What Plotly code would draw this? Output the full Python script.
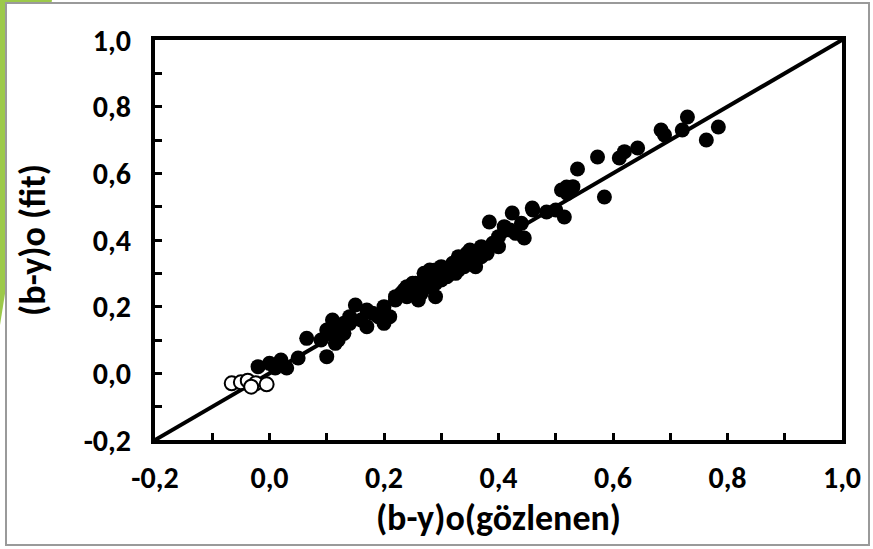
import plotly.graph_objects as go

# Observed (x) vs fitted (y) values – filled points
obs_filled = [
    -0.02, 0.00, 0.02, 0.03, 0.01, 0.05, 0.065, 0.09, 0.10, 0.10, 0.11, 0.11,
    0.12, 0.13, 0.14, 0.15, 0.16, 0.17, 0.18, 0.19, 0.20, 0.21, 0.20, 0.22, 0.12, 0.115, 0.13,
    0.23, 0.24, 0.25, 0.26, 0.27, 0.27, 0.28, 0.28, 0.29, 0.29, 0.30, 0.30, 0.31, 0.26,
    0.31, 0.32, 0.33, 0.33, 0.34, 0.35, 0.35, 0.36, 0.37, 0.37, 0.38, 0.384, 0.39, 0.40, 0.36,
    0.25, 0.24, 0.27, 0.29, 0.32, 0.34, 0.38, 0.28, 0.30, 0.22, 0.17, 0.14,
    0.424, 0.459, 0.445, 0.484, 0.42, 0.41, 0.44, 0.46, 0.40, 0.43,
    0.50, 0.51, 0.515, 0.52, 0.53, 0.538, 0.519, 0.585, 0.573, 0.611,
    0.62, 0.643, 0.684, 0.69, 0.721, 0.73, 0.763, 0.784,
    0.235, 0.255, 0.265, 0.285, 0.305, 0.325, 0.345, 0.355, 0.375,
]
fit_filled = [
    0.02, 0.03, 0.04, 0.016, 0.016, 0.046, 0.105, 0.10, 0.05, 0.13, 0.12, 0.16,
    0.14, 0.15, 0.17, 0.205, 0.16, 0.14, 0.18, 0.17, 0.15, 0.17, 0.20, 0.23, 0.10, 0.09, 0.12,
    0.24, 0.26, 0.27, 0.25, 0.28, 0.30, 0.26, 0.29, 0.23, 0.31, 0.28, 0.32, 0.29, 0.22,
    0.30, 0.33, 0.31, 0.35, 0.33, 0.34, 0.37, 0.35, 0.38, 0.35, 0.36, 0.454, 0.39, 0.38, 0.32,
    0.25, 0.23, 0.26, 0.27, 0.31, 0.32, 0.37, 0.31, 0.30, 0.22, 0.19, 0.15,
    0.481, 0.496, 0.406, 0.484, 0.43, 0.44, 0.45, 0.49, 0.41, 0.42,
    0.49, 0.55, 0.469, 0.54, 0.56, 0.613, 0.559, 0.529, 0.649, 0.646,
    0.665, 0.676, 0.73, 0.715, 0.73, 0.769, 0.70, 0.739,
    0.25, 0.27, 0.24, 0.28, 0.31, 0.30, 0.36, 0.33, 0.37,
]

# Open circles near the origin
obs_open = [-0.066, -0.050, -0.038, -0.024, -0.005, -0.032]
fit_open = [-0.030, -0.027, -0.022, -0.030, -0.033, -0.040]

# 1:1 line
line_x = [-0.2, 1.0]
line_y = [-0.2, 1.0]

tick_vals = [-0.2, 0.0, 0.2, 0.4, 0.6, 0.8, 1.0]
tick_text = ["-0,2", "0,0", "0,2", "0,4", "0,6", "0,8", "1,0"]

L, R, T, B = 155, 31, 40, 109
W, H = 873, 549
pw, ph = W - L - R, H - T - B


def px(x):
    return (x - L) / pw


def py(y):
    return (H - B - y) / ph


FONT = "Carlito, Open Sans"

fig = go.Figure()
fig.add_trace(go.Scatter(x=line_x, y=line_y, mode="lines",
                         line=dict(color="black", width=4), showlegend=False, hoverinfo="skip"))
fig.add_trace(go.Scatter(x=obs_filled, y=fit_filled, mode="markers",
                         marker=dict(color="black", size=15, line=dict(width=0)), showlegend=False))
fig.add_trace(go.Scatter(x=obs_open, y=fit_open, mode="markers",
                         marker=dict(color="white", size=14, line=dict(color="black", width=2)),
                         showlegend=False))

axis_common = dict(
    range=[-0.2, 1.0], tickvals=tick_vals, ticktext=tick_text,
    showgrid=False, zeroline=False, showline=True, linecolor="black", linewidth=4,
    mirror=True, ticks="inside", ticklen=7, tickwidth=3, tickcolor="black",
    minor=dict(dtick=0.1, tick0=-0.2, ticks="inside", ticklen=7, tickwidth=3, tickcolor="black"),
    tickfont=dict(family=FONT, size=30, color="black", weight="bold"),
)

fig.update_xaxes(**axis_common, ticklabelstandoff=8,
                 title=dict(text="(b-y)o(gözlenen)", standoff=2,
                            font=dict(family=FONT, size=36, color="black", weight="bold")))
fig.update_yaxes(**axis_common, ticklabelstandoff=14,
                 title=dict(text="(b-y)o (fit)", standoff=28,
                            font=dict(family=FONT, size=36, color="black", weight="bold")))

shapes = [
    # green slide decoration
    dict(type="path", xref="paper", yref="paper", layer="below",
         path=f"M {px(0)} {py(0)} L {px(52)} {py(0)} L {px(0)} {py(325)} Z",
         fillcolor="#9CC94A", line=dict(width=0)),
    # white chart frame with grey border
    dict(type="rect", xref="paper", yref="paper", layer="below",
         x0=px(6), x1=px(869), y0=py(3), y1=py(545),
         fillcolor="white", line=dict(color="#9A9A9A", width=2)),
]

fig.update_layout(
    width=W, height=H, margin=dict(l=L, r=R, t=T, b=B),
    paper_bgcolor="white", plot_bgcolor="rgba(0,0,0,0)",
    shapes=shapes, showlegend=False,
)

fig.write_html("out.html")
